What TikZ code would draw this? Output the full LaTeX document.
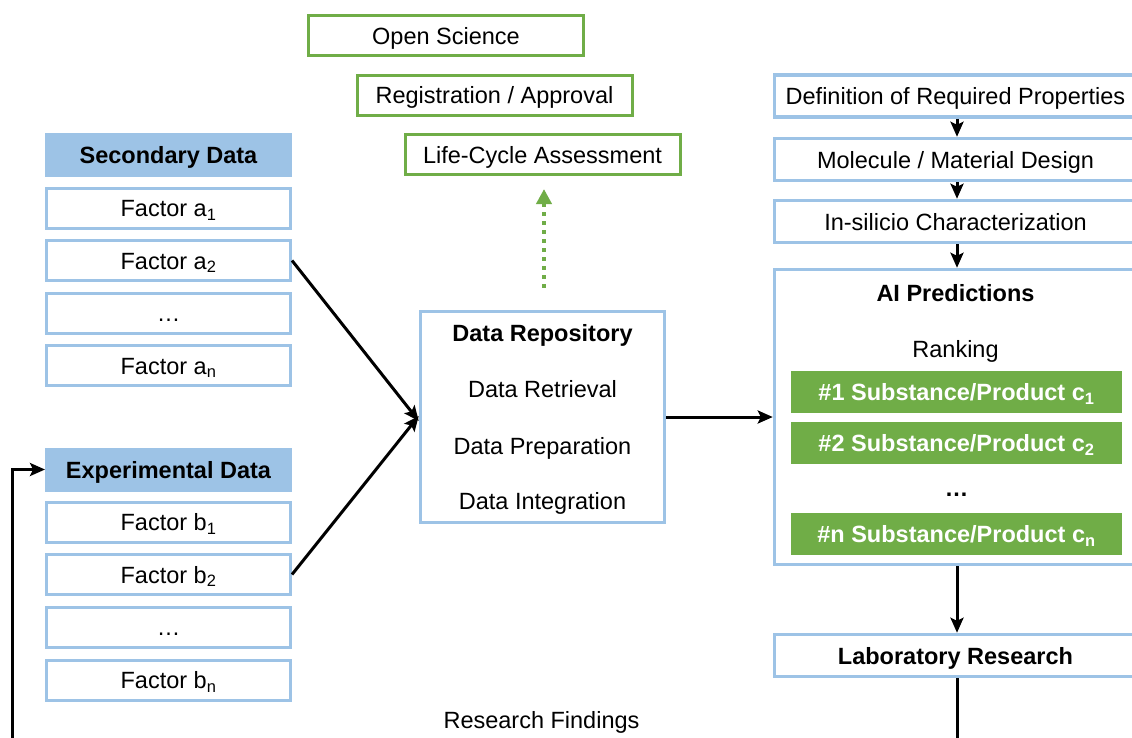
\documentclass[tikz,border=0pt]{standalone}
\usepackage{fontspec}
\setmainfont{Liberation Sans}
\usetikzlibrary{arrows.meta}
\definecolor{lblue}{HTML}{9DC3E6}
\definecolor{lgreen}{HTML}{70AD47}
\begin{document}
\begin{tikzpicture}[x=1pt,y=-1pt,
  every node/.style={font=\fontsize{23.5}{28}\selectfont, inner sep=0pt, text height=17pt, text depth=0pt},
  bbox/.style={draw=lblue, line width=3pt, fill=white, minimum width=244pt, minimum height=40pt},
  hbox/.style={draw=lblue, fill=lblue, line width=3pt, minimum width=244pt, minimum height=41pt, font=\fontsize{23.5}{28}\selectfont\bfseries},
  gbox/.style={draw=lgreen, line width=3pt, fill=white, minimum width=275pt, minimum height=40pt},
  rbox/.style={draw=lblue, line width=3.5pt, fill=white, minimum width=362pt, minimum height=42pt},
  cbar/.style={fill=lgreen, text=white, minimum width=331pt, minimum height=42pt, font=\fontsize{23.5}{28}\selectfont\bfseries},
  arr/.style={line width=3pt, -{Stealth[length=15pt,width=13pt,inset=3pt]}},
  btext/.style={font=\fontsize{23.5}{28}\selectfont\bfseries}
]
\clip (0,0) rectangle (1132,737);
\fill[white] (0,0) rectangle (1132,737);

% left column: secondary data
\node[hbox] (sech) at (168.5,155) {Secondary Data};
\node[bbox] (a1) at (168.5,208) {Factor a\textsubscript{1}};
\node[bbox] (a2) at (168.5,260.5) {Factor a\textsubscript{2}};
\node[bbox] (adots) at (168.5,313) {…};
\node[bbox] (an) at (168.5,365.5) {Factor a\textsubscript{n}};

% left column: experimental data
\node[hbox] (exph) at (168.5,469.5) {Experimental Data};
\node[bbox] (b1) at (168.5,522) {Factor b\textsubscript{1}};
\node[bbox] (b2) at (168.5,574.5) {Factor b\textsubscript{2}};
\node[bbox] (bdots) at (168.5,627) {…};
\node[bbox] (bn) at (168.5,680) {Factor b\textsubscript{n}};

% top green boxes
\node[gbox] (open) at (446,35.5) {Open Science};
\node[gbox] (reg) at (494.5,95) {Registration / Approval};
\node[gbox] (lca) at (542.5,154.5) {Life-Cycle Assessment};

% data repository
\node[draw=lblue, line width=3.5pt, fill=white, minimum width=244pt, minimum height=211pt] (repo) at (542.5,417) {};
\node[btext] (repot) at (542.5,333) {Data Repository};
\node (retr) at (542.5,389) {Data Retrieval};
\node (prep) at (542.5,446) {Data Preparation};
\node (integ) at (542.5,501) {Data Integration};

% right column
\node[rbox] (def) at (955.5,96) {Definition of Required Properties};
\node[rbox] (mol) at (955.5,159.5) {Molecule / Material Design};
\node[rbox] (sil) at (955.5,221.5) {In-silicio Characterization};
\node[draw=lblue, line width=3.5pt, fill=white, minimum width=362pt, minimum height=295pt] (ai) at (955.5,417) {};
\node[btext] (ait) at (955.5,293) {AI Predictions};
\node (rank) at (955.5,349) {Ranking};
\node[cbar] (c1) at (956.5,392) {\#1 Substance/Product c\textsubscript{1}};
\node[cbar] (c2) at (956.5,443) {\#2 Substance/Product c\textsubscript{2}};
\node[btext] (cdots) at (956.5,488) {…};
\node[cbar] (cn) at (956.5,534) {\#n Substance/Product c\textsubscript{n}};
\node[rbox, btext] (lab) at (955.5,655.5) {Laboratory Research};

\node (findings) at (541.5,720) {Research Findings};

% connectors
\draw[arr] (a2.east) -- ([yshift=-4pt]repo.west);
\draw[arr] (b2.east) -- ([yshift=1pt]repo.west);
\draw[arr] (repo.east) -- (ai.west);
\draw[arr] ([xshift=1.5pt]def.south) -- ([xshift=1.5pt]mol.north);
\draw[arr] ([xshift=1.5pt]mol.south) -- ([xshift=1.5pt]sil.north);
\draw[arr] ([xshift=1.5pt]sil.south) -- ([xshift=1.5pt]ai.north);
\draw[arr] ([xshift=1.5pt]ai.south) -- ([xshift=1.5pt]lab.north);
\coordinate (loop) at (12.7,770);
\draw[arr] ([xshift=1.5pt]lab.south) |- (loop) |- (exph.west);
\draw[draw=lgreen, line width=4pt, dash pattern=on 4pt off 5pt, shorten <=22pt, shorten >=13pt,
  -{Triangle[length=15pt,width=15pt]}] ([xshift=1.5pt]repo.north) -- ([xshift=1.5pt]lca.south);
\end{tikzpicture}
\end{document}
